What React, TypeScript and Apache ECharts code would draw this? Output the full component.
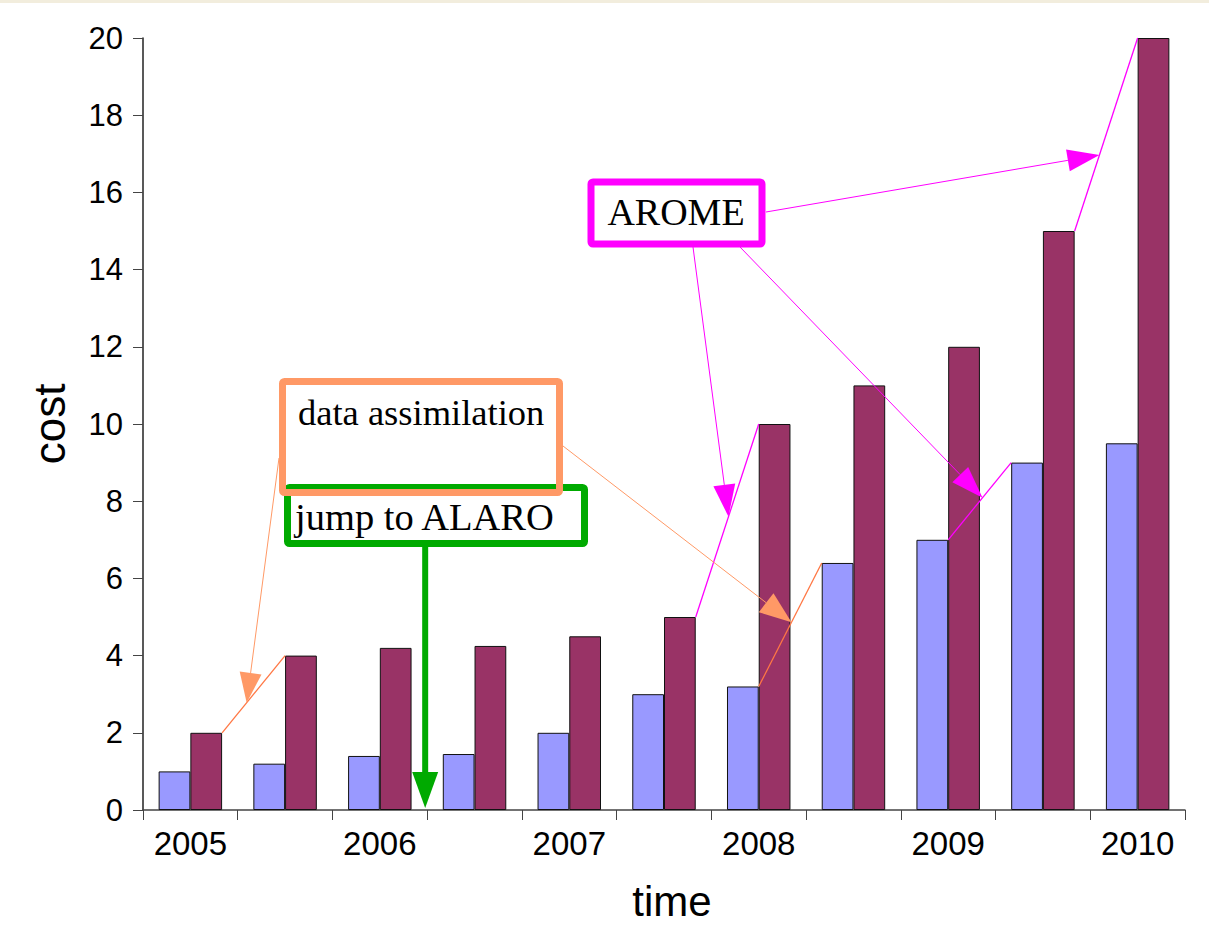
import React, { useEffect, useRef } from "react";
import * as echarts from "echarts";

// ---- data ----
const categories = ["2005", "2005.5", "2006", "2006.5", "2007", "2007.5", "2008", "2008.5", "2009", "2009.5", "2010"];
const seriesLight = [1, 1.2, 1.4, 1.45, 2, 3, 3.2, 6.4, 7, 9, 9.5];
const seriesDark = [2, 4, 4.2, 4.25, 4.5, 5, 10, 11, 12, 15, 20];
const yMin = 0;
const yMax = 20;
const yInterval = 2;

const SANS = "Liberation Sans, Arial, sans-serif";
const SERIF = "Liberation Serif, Times New Roman, serif";
const MAGENTA = "#FF00FF";
const ORANGE = "#FF9966";
const ORANGE_DARK = "#FF7744";
const GREEN = "#00AA00";
const GAP = 0.33;

type Pt = [number, number];

function arrow(from: Pt, tip: Pt, color: string, lw: number, headLen: number, headHalf: number) {
  const dx = tip[0] - from[0];
  const dy = tip[1] - from[1];
  const len = Math.sqrt(dx * dx + dy * dy);
  const ux = dx / len;
  const uy = dy / len;
  const bx = tip[0] - ux * headLen;
  const by = tip[1] - uy * headLen;
  const nx = -uy;
  const ny = ux;
  return [
    {
      type: "line",
      z: 100,
      shape: { x1: from[0], y1: from[1], x2: bx, y2: by },
      style: { stroke: color, lineWidth: lw },
    },
    {
      type: "polygon",
      z: 101,
      shape: {
        points: [
          [tip[0], tip[1]],
          [bx + nx * headHalf, by + ny * headHalf],
          [bx - nx * headHalf, by - ny * headHalf],
        ],
      },
      style: { fill: color, stroke: "none" },
    },
  ];
}

export default function App() {
  const ref = useRef<HTMLDivElement>(null);

  useEffect(() => {
    const chart = echarts.init(ref.current!, null, { renderer: "svg" });
    const option: any = {
      animation: false,
      backgroundColor: "#ffffff",
      grid: { left: 143, right: 24, top: 38, bottom: 136, containLabel: false },
      xAxis: {
        type: "category",
        data: categories,
        name: "time",
        nameLocation: "middle",
        nameGap: 70,
        nameTextStyle: { fontSize: 42, fontFamily: SANS, color: "#000", padding: [0, 0, 0, 16] },
        axisLine: { show: true, lineStyle: { color: "#444", width: 1.5 } },
        axisTick: { show: true, interval: 0, length: 10, lineStyle: { color: "#444", width: 1 } },
        axisLabel: { interval: 1, margin: 17, fontSize: 33, fontFamily: SANS, color: "#000" },
        splitLine: { show: false },
      },
      yAxis: {
        type: "value",
        min: yMin,
        max: yMax,
        interval: yInterval,
        name: "cost",
        nameLocation: "middle",
        nameGap: 72,
        nameRotate: 90,
        nameTextStyle: { fontSize: 44, fontFamily: SANS, color: "#000" },
        axisLine: { show: true, lineStyle: { color: "#222", width: 1.5 } },
        axisTick: { show: true, length: 10, lineStyle: { color: "#444", width: 1 } },
        axisLabel: { margin: 20, fontSize: 31, fontFamily: SANS, color: "#000" },
        splitLine: { show: false },
      },
      series: [
        {
          type: "bar",
          data: seriesLight,
          barGap: "0%",
          barCategoryGap: GAP * 100 + "%",
          itemStyle: { color: "#9999FF", borderColor: "#111", borderWidth: 1 },
        },
        {
          type: "bar",
          data: seriesDark,
          barGap: "0%",
          barCategoryGap: GAP * 100 + "%",
          itemStyle: { color: "#993366", borderColor: "#111", borderWidth: 1 },
        },
      ],
    };
    chart.setOption(option);

    const px = (i: number, v: number): Pt => chart.convertToPixel({ xAxisIndex: 0, yAxisIndex: 0 }, [i, v]) as any;
    const band = px(1, 0)[0] - px(0, 0)[0];
    const barW = (band * (1 - GAP)) / 2;

    // connectors between bar tops
    const darkTopRight = (i: number): Pt => [px(i, 0)[0] + barW, px(i, seriesDark[i])[1]];
    const darkTopLeft = (i: number): Pt => [px(i, 0)[0], px(i, seriesDark[i])[1]];
    const lightTopRight = (i: number): Pt => [px(i, 0)[0], px(i, seriesLight[i])[1]];
    const lightTopLeft = (i: number): Pt => [px(i, 0)[0] - barW, px(i, seriesLight[i])[1]];
    const along = (a: Pt, b: Pt, t: number): Pt => [a[0] + (b[0] - a[0]) * t, a[1] + (b[1] - a[1]) * t];

    const c1: [Pt, Pt] = [darkTopRight(0), darkTopLeft(1)];
    const c2: [Pt, Pt] = [lightTopRight(6), lightTopLeft(7)];
    const c3: [Pt, Pt] = [darkTopRight(5), darkTopLeft(6)];
    const c4: [Pt, Pt] = [lightTopRight(8), lightTopLeft(9)];
    const c5: [Pt, Pt] = [darkTopRight(9), darkTopLeft(10)];

    const connector = (c: [Pt, Pt], color: string) => ({
      type: "line",
      z: 100,
      shape: { x1: c[0][0], y1: c[0][1], x2: c[1][0], y2: c[1][1] },
      style: { stroke: color, lineWidth: 1.3 },
    });

    const greenX = px(2, 0)[0] + band / 2 - 2;
    const greenTip: Pt = [greenX, px(2, 0)[1] - 2];

    const graphic: any[] = [
      { type: "rect", z: 50, shape: { x: 0, y: 0, width: 1209, height: 3 }, style: { fill: "#F2EDDD" } },
      connector(c1, ORANGE_DARK),
      connector(c2, ORANGE_DARK),
      connector(c3, MAGENTA),
      connector(c4, MAGENTA),
      connector(c5, MAGENTA),
      ...arrow([279, 458], along(c1[0], c1[1], 0.39), ORANGE, 1, 30, 11),
      ...arrow([563, 446], along(c2[0], c2[1], 0.52), ORANGE, 1, 32, 12),
      ...arrow([766, 212], along(c5[0], c5[1], 0.394), MAGENTA, 1, 32, 11),
      ...arrow([693, 247], along(c3[0], c3[1], 0.52), MAGENTA, 1, 32, 11),
      ...arrow([740, 247], along(c4[0], c4[1], 0.545), MAGENTA, 1, 32, 11),
      ...arrow([greenX, 547], greenTip, GREEN, 6, 36, 13),
      // boxes
      {
        type: "rect",
        z: 102,
        shape: { x: 287.5, y: 487.5, width: 297, height: 56, r: 2 },
        style: { fill: "none", stroke: GREEN, lineWidth: 7 },
      },
      {
        type: "rect",
        z: 103,
        shape: { x: 282.5, y: 381.5, width: 277, height: 111, r: 2 },
        style: { fill: "none", stroke: ORANGE, lineWidth: 7 },
      },
      {
        type: "rect",
        z: 103,
        shape: { x: 591, y: 182, width: 171, height: 62, r: 2 },
        style: { fill: "none", stroke: MAGENTA, lineWidth: 7 },
      },
      {
        type: "text",
        z: 104,
        x: 676,
        y: 212,
        style: {
          text: "AROME",
          fontSize: 38,
          fontFamily: SERIF,
          fill: "#000",
          align: "center",
          verticalAlign: "middle",
          textAlign: "center",
          textVerticalAlign: "middle",
        },
      },
      {
        type: "text",
        z: 104,
        x: 298,
        y: 412,
        style: {
          text: "data assimilation",
          fontSize: 36.5,
          fontFamily: SERIF,
          fill: "#000",
          align: "left",
          verticalAlign: "middle",
          textAlign: "left",
          textVerticalAlign: "middle",
        },
      },
      {
        type: "text",
        z: 104,
        x: 295,
        y: 517,
        style: {
          text: "jump to ALARO",
          fontSize: 38.5,
          fontFamily: SERIF,
          fill: "#000",
          align: "left",
          verticalAlign: "middle",
          textAlign: "left",
          textVerticalAlign: "middle",
        },
      },
    ];
    chart.setOption({ graphic });

    return () => chart.dispose();
  }, []);

  return (
    <div
      ref={ref}
      style={{ position: "fixed", left: 0, top: 0, width: 1209, height: 946, background: "#ffffff" }}
    />
  );
}
